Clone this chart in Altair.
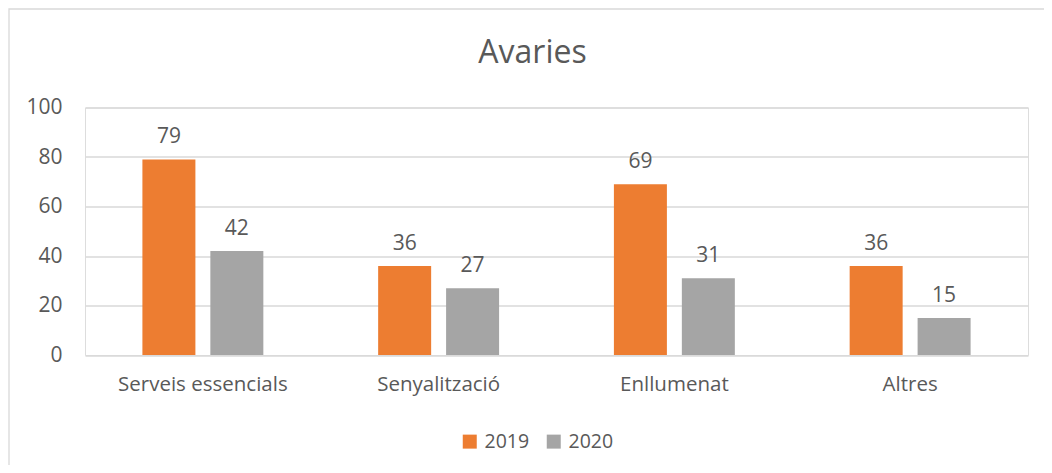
import altair as alt
import pandas as pd

categories = ["Serveis essencials", "Senyalització", "Enllumenat", "Altres"]
series = ["2019", "2020"]
values_2019 = [79, 36, 69, 36]
values_2020 = [42, 27, 31, 15]
y_ticks = [0, 20, 40, 60, 80, 100]

rows = []
for c, a, b in zip(categories, values_2019, values_2020):
    rows.append({"cat": c, "year": "2019", "value": a})
    rows.append({"cat": c, "year": "2020", "value": b})
df = pd.DataFrame(rows)

FONT = "Open Sans"
TXT = "#595959"
W, H = 943, 247.5
FS = 21

x_enc = alt.X("cat:N", sort=categories, title=None,
              scale=alt.Scale(paddingInner=0.487, paddingOuter=0.2435),
              axis=alt.Axis(labelAngle=0, labelFontSize=20.5, labelColor=TXT, labelFont=FONT,
                            domain=False, ticks=False, labelPadding=19))
xoff = alt.XOffset("year:N", sort=series, scale=alt.Scale(paddingInner=0.22, paddingOuter=0))
y_enc = alt.Y("value:Q", title=None,
              scale=alt.Scale(domain=[0, 100]),
              axis=alt.Axis(values=y_ticks, labelFontSize=FS, labelColor=TXT, labelFont=FONT,
                            domain=False, ticks=False, labelPadding=23,
                            gridColor="#D9D9D9", gridWidth=1.3))

base = alt.Chart(df)

bars = base.mark_bar().encode(
    x=x_enc, xOffset=xoff, y=y_enc,
    color=alt.Color("year:N", sort=series, title=None,
                    scale=alt.Scale(domain=series, range=["#ED7D31", "#A5A5A5"]),
                    legend=alt.Legend(orient="none", direction="horizontal",
                                      legendX=375, legendY=324,
                                      symbolType="square", symbolSize=196,
                                      symbolStrokeWidth=0,
                                      labelFontSize=19.5, labelColor=TXT, labelFont=FONT,
                                      columnPadding=14, labelOffset=5)),
)

labels = base.mark_text(fontSize=FS, color=TXT, font=FONT, baseline="bottom", dy=-12).encode(
    x=alt.X("cat:N", sort=categories), xOffset=xoff, y="value:Q", text="value:Q"
)

frame = alt.Chart(pd.DataFrame({"k": [0]})).mark_rect(
    fill=None, stroke="#D9D9D9", strokeWidth=1.3
).encode(x=alt.value(-76), x2=alt.value(W + 200), y=alt.value(-98.5), y2=alt.value(H + 200))

chart = alt.layer(frame, bars, labels).properties(
    width=W, height=H,
    title=alt.TitleParams("Avaries", fontSize=32, color=TXT, font=FONT, fontWeight="normal",
                          anchor="middle", offset=0, dy=62, dx=-24),
    autosize=alt.AutoSizeParams(type="none"),
    padding={"left": 77, "top": 99.5, "right": 16, "bottom": 110},
).configure_view(stroke=None).configure(background="white")

chart.save("out.html", embed_options={"renderer": "svg", "actions": False})
